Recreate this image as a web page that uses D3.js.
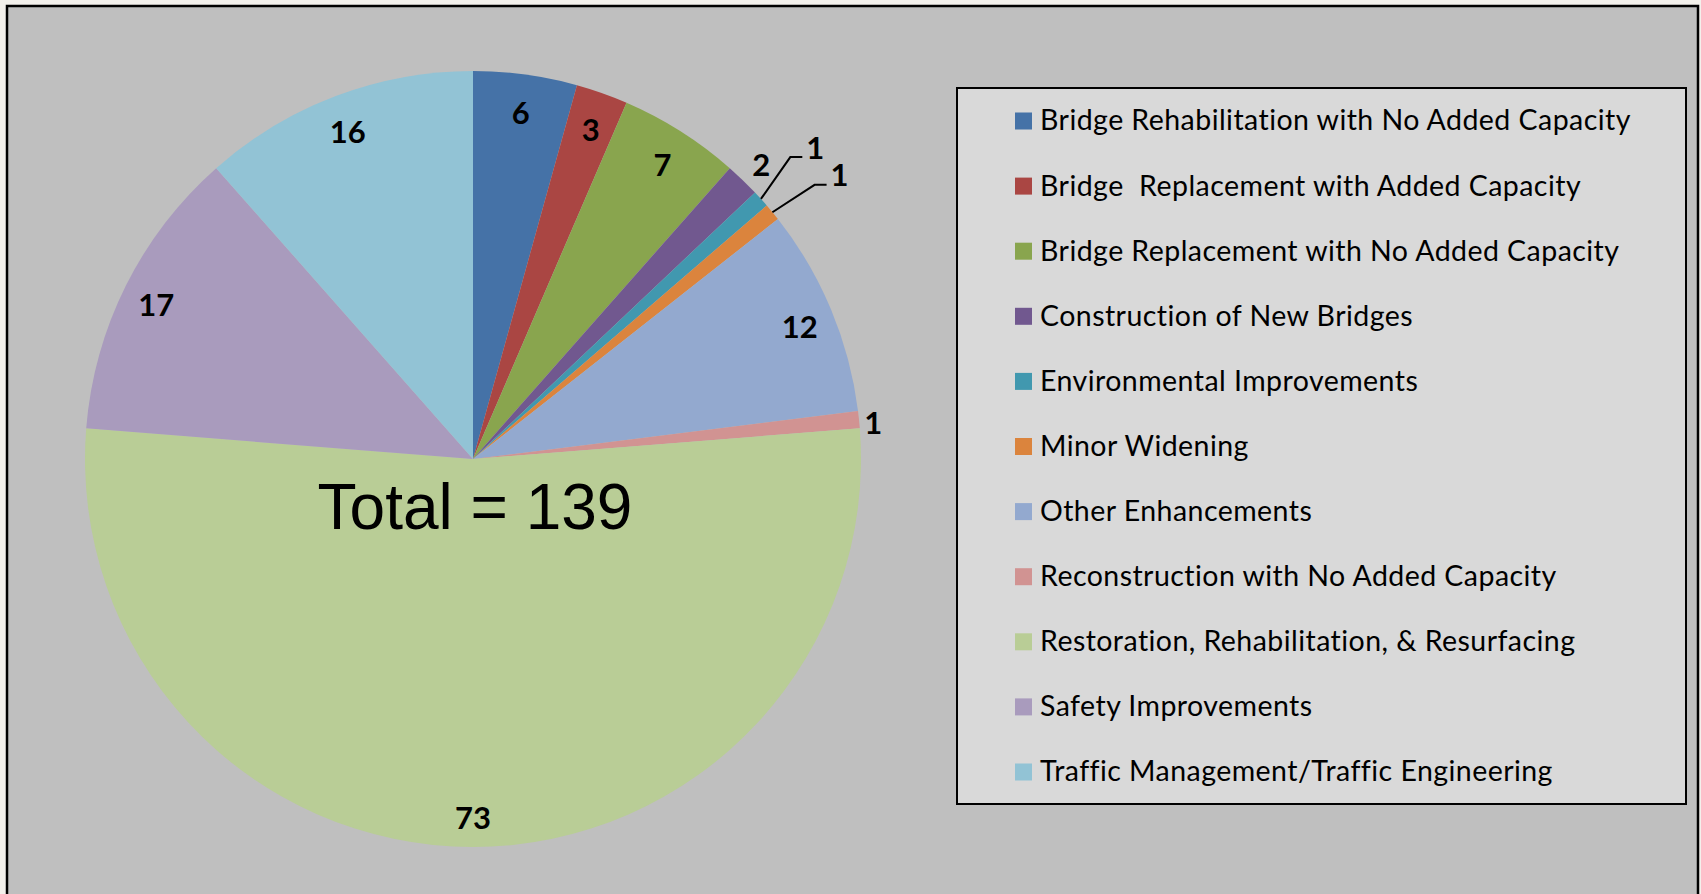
<!DOCTYPE html>
<html>
<head>
<meta charset="utf-8">
<script src="https://cdn.jsdelivr.net/npm/d3@7"></script>
<style>
  body { margin: 0; background: #f3f1ec; }
  svg { display: block; }
</style>
</head>
<body>
<div id="chart"></div>
<script>
var categories = [
    "Bridge Rehabilitation with No Added Capacity",
    "Bridge  Replacement with Added Capacity",
    "Bridge Replacement with No Added Capacity",
    "Construction of New Bridges",
    "Environmental Improvements",
    "Minor Widening",
    "Other Enhancements",
    "Reconstruction with No Added Capacity",
    "Restoration, Rehabilitation, & Resurfacing",
    "Safety Improvements",
    "Traffic Management/Traffic Engineering"
];
var counts = [6, 3, 7, 2, 1, 1, 12, 1, 73, 17, 16];
var colors = ["#4572A7", "#AA4643", "#89A54E", "#71588F", "#4198AF", "#DB843D",
              "#93A9CF", "#D19392", "#B9CD96", "#A99BBD", "#92C3D5"];
// how each data label is placed: inside end, outside end, or with a leader line
var labelMode = ["in", "in", "in", "out", "leader", "leader", "in", "out", "in", "in", "in"];
// leader elbows are spread a little apart from the slice middle (radians)
var leaderShift = [0, 0, 0, 0, -0.026, 0.013, 0, 0, 0, 0, 0];
var totalText = "Total = 139";

function createChart(div){
    var width = 1701, height = 894;
    var cx = 473, cy = 459, radius = 388;

    var svg = d3.select(div)
        .append("svg")
        .attr("width", width)
        .attr("height", height);

    // chart area with frame
    svg.append("rect")
        .attr("x", 7)
        .attr("y", 6)
        .attr("width", 1691)
        .attr("height", 900)
        .attr("fill", "#bfbfbf")
        .attr("stroke", "black")
        .attr("stroke-width", 2.5);

    var color = d3.scaleOrdinal().domain(categories).range(colors);

    var pie = d3.pie().sort(null).value(function(d) { return d.value; });
    var data = categories.map(function(c, i) {
        return { name: c, value: counts[i], mode: labelMode[i], shift: leaderShift[i] };
    });
    var arcs = pie(data);

    var arc = d3.arc().innerRadius(0).outerRadius(radius);
    var inLabel = d3.arc().innerRadius(354).outerRadius(354);

    var g = svg.append("g")
        .attr("transform", "translate(" + cx + "," + cy + ")");

    g.selectAll("path.slice")
        .data(arcs)
        .enter()
        .append("path")
        .attr("class", "slice")
        .attr("d", arc)
        .attr("fill", function(d) { return color(d.data.name); });

    function polar(r, a) {
        return [r * Math.sin(a), -r * Math.cos(a)];
    }

    var labelFont = "Lato, 'Open Sans', sans-serif";

    function label(x, y, anchor, txt) {
        g.append("text")
            .attr("x", x)
            .attr("y", y)
            .attr("dy", ".5em")
            .attr("text-anchor", anchor)
            .style("font-family", labelFont)
            .style("font-weight", "bold")
            .style("font-size", "31px")
            .text(txt);
    }

    arcs.forEach(function(d) {
        var mid = (d.startAngle + d.endAngle) / 2;
        if (d.data.mode == "leader") {
            var p0 = polar(radius, mid);
            var p1 = polar(438, mid + d.data.shift);
            var p2 = [p1[0] + 12, p1[1]];
            g.append("polyline")
                .attr("points", [p0, p1, p2].map(function(p) { return p.join(","); }).join(" "))
                .attr("fill", "none")
                .attr("stroke", "black")
                .attr("stroke-width", 2);
            label(p2[0] + 4, p2[1] - 14, "start", d.data.value);
        } else if (d.data.mode == "out") {
            // outside end: keep a small gap between the label box and the rim
            var r = radius + 8 + 4 * Math.abs(Math.sin(mid)) + 22 * Math.abs(Math.cos(mid));
            var pos = polar(r, mid);
            label(pos[0], pos[1], "middle", d.data.value);
        } else {
            var c = inLabel.centroid(d);
            label(c[0], c[1], "middle", d.data.value);
        }
    });

    g.append("text")
        .attr("x", 2)
        .attr("y", 70)
        .attr("text-anchor", "middle")
        .style("font-family", "'Liberation Sans', Arial, sans-serif")
        .style("font-size", "64px")
        .text(totalText);

    // legend
    var legend = svg.append("g");
    legend.append("rect")
        .attr("x", 957)
        .attr("y", 88)
        .attr("width", 729)
        .attr("height", 716)
        .attr("fill", "#d9d9d9")
        .attr("stroke", "black")
        .attr("stroke-width", 2);

    var row = d3.scalePoint()
        .domain(categories)
        .range([120.5, 771.5]);

    var items = legend.selectAll("g.item")
        .data(categories)
        .enter()
        .append("g")
        .attr("class", "item")
        .attr("transform", function(d) { return "translate(1015," + row(d) + ")"; });

    items.append("rect")
        .attr("x", 0)
        .attr("y", -8)
        .attr("width", 17)
        .attr("height", 17)
        .attr("fill", function(d) { return color(d); });

    items.append("text")
        .attr("x", 25)
        .attr("y", 0)
        .attr("dy", ".35em")
        .style("font-family", labelFont)
        .style("font-size", "28.5px")
        .style("letter-spacing", "0.45px")
        .style("white-space", "pre")
        .attr("xml:space", "preserve")
        .text(function(d) { return d; });
}

createChart("#chart");
</script>
</body>
</html>
